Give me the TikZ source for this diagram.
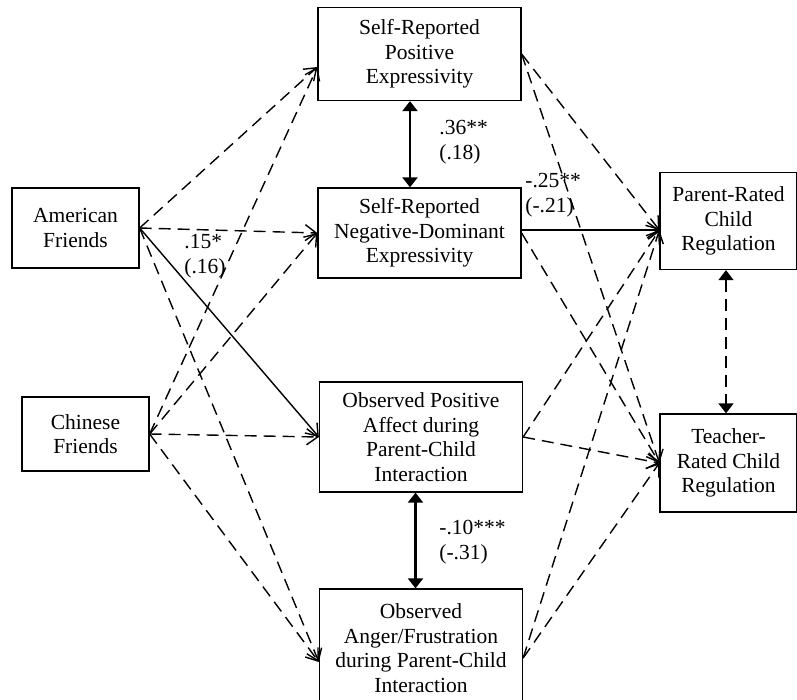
\documentclass[tikz,border=0pt]{standalone}
\usepackage{fontspec}
\setmainfont{Liberation Serif}
\usetikzlibrary{calc}
\usetikzlibrary{arrows.meta}

\begin{document}
\begin{tikzpicture}[x=0.5pt, y=-0.5pt,
    box/.style={draw, line width=0.65pt, align=center, inner sep=0pt,
      font=\fontsize{10.75}{12.25}\selectfont},
    wide/.style={box, minimum width=101.5pt},
    narrow/.style={box, minimum width=63.5pt},
    ns/.style={dash pattern=on 6pt off 3.5pt, line width=0.7pt,
      -{Straight Barb[length=5.5pt,width=8pt]}},
    sig/.style={line width=0.7pt, -{Straight Barb[length=5.5pt,width=8pt]}},
    cov/.style={line width=1.1pt,
      {Triangle[width=7.5pt,length=5pt]}-{Triangle[width=7.5pt,length=5pt]}},
    covns/.style={line width=0.75pt, dash pattern=on 6pt off 3.5pt,
      {Triangle[width=7.5pt,length=5pt]}-{Triangle[width=7.5pt,length=5pt]}},
    est/.style={align=left, inner sep=0pt, anchor=west,
      font=\fontsize{10.75}{12.5}\selectfont}
    ]
    \useasboundingbox (0,0) rectangle (797,700);
    \node[wide, minimum height=46.5pt] (srp) at (419.5,54) {Self-Reported\\Positive\\Expressivity};
    \node[wide, minimum height=45pt] (srn) at (419.5,233) {Self-Reported\\Negative-Dominant\\Expressivity};
    \node[narrow, minimum height=40pt] (af) at (75.5,228) {American\\Friends};
    \node[narrow, minimum height=37pt] (cf) at (85.5,434) {Chinese\\Friends};
    \node[wide, minimum height=55pt] (opa) at (421,437) {Observed Positive\\Affect during\\Parent-Child\\Interaction};
    \node[wide, minimum height=59pt] (oaf) at (421,648) {Observed\\Anger/Frustration\\during Parent-Child\\Interaction};
    \node[box, minimum width=68.5pt, minimum height=48.5pt] (prc) at (728.5,221) {Parent-Rated\\Child\\Regulation};
    \node[box, minimum width=68.5pt, minimum height=49pt] (trc) at (728.5,463) {Teacher-\\Rated Child\\Regulation};

    \coordinate (srpin) at ($(srp.west)+(0,13)$);
    \coordinate (oafin) at ($(oaf.west)+(0,14)$);
    \coordinate (oafout) at ($(oaf.east)+(0,10)$);
    \coordinate (prcin) at ($(prc.west)+(0,9)$);

    \foreach \src in {af, cf} {
      \draw[ns] (\src.east) -- (srpin);
      \draw[ns] (\src.east) -- (srn.west);
      \draw[ns] (\src.east) -- (oafin);
    }
    \draw[sig] (af.east) -- (opa.west);
    \draw[ns] (cf.east) -- (opa.west);

    \foreach \src in {srp.east, opa.east, oafout} {
      \draw[ns] (\src) -- (prcin);
      \draw[ns] (\src) -- (trc.west);
    }
    \draw[sig] ($(srn.east)+(0,-3)$) -- (prcin);
    \draw[ns] (srn.east) -- (trc.west);

    \draw[cov] ($(srp.south)+(-9.5,0)$) -- ($(srn.north)+(-9.5,0)$);
    \draw[cov] ($(opa.south)+(-5.5,0)$) -- ($(oaf.north)+(-5.5,0)$);
    \draw[covns] ($(prc.south)+(-2.5,0)$) -- ($(trc.north)+(-2.5,0)$);

    \node[est] (r1) at (439,142) {.36**\\(.18)};
    \node[est] (b1) at (525,195) {-.25**\\(-.21)};
    \node[est] (b2) at (184,256) {.15*\\(.16)};
    \node[est] (r2) at (439,542) {-.10***\\(-.31)};
  \end{tikzpicture}
\end{document}
